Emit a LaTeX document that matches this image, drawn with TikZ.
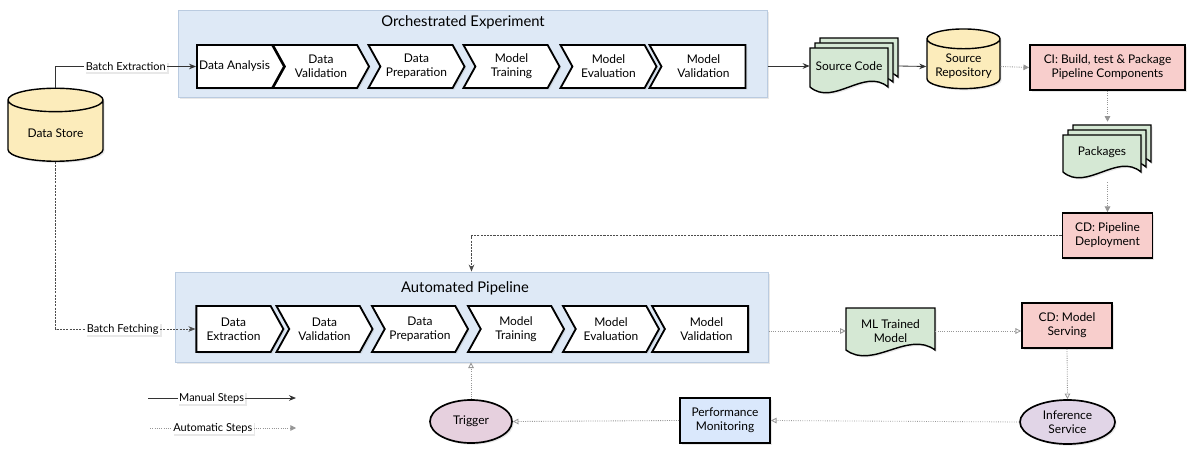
\documentclass[tikz,border=0pt]{standalone}
\usepackage{fontspec}
\setmainfont{Lato}
\usetikzlibrary{shapes.geometric,shapes.symbols,arrows.meta,shadows}

\definecolor{panelfill}{RGB}{222,233,246}
\definecolor{paneldraw}{RGB}{186,203,224}
\definecolor{storefill}{RGB}{252,236,187}
\definecolor{docfill}{RGB}{213,232,212}
\definecolor{cifill}{RGB}{248,206,204}
\definecolor{servfill}{RGB}{225,213,231}
\definecolor{trigfill}{RGB}{230,208,222}
\definecolor{monfill}{RGB}{218,232,252}
\definecolor{autoline}{RGB}{150,150,150}

\tikzset{
  softshadow/.style={drop shadow={opacity=0.18,shadow xshift=1.2pt,shadow yshift=-1.2pt}},
  panel/.style={draw=paneldraw, fill=panelfill, line width=0.6pt, softshadow},
  paneltitle/.style={font=\fontsize{10.5}{12}\selectfont},
  stage/.style={signal, draw, fill=white, line width=1.3pt, signal pointer angle=122,
    align=center, inner sep=1pt, softshadow},
  box/.style={draw, line width=1.3pt, minimum width=2.25cm, minimum height=1.125cm,
    align=center, softshadow},
  store/.style={cylinder, shape border rotate=90, draw, line width=1pt, fill=storefill,
    align=center, softshadow},
  oval/.style={ellipse, draw, line width=1.2pt, align=center, inner sep=1pt, softshadow},
  doctext/.style={align=center, inner sep=1pt},
  docline/.style={draw, line width=1pt, softshadow},
  edgelabel/.style={fill=white, inner sep=1pt, font=\fontsize{7.8}{9}\selectfont, softshadow},
  manual/.style={draw=black!80, line width=0.6pt, -{Stealth[length=5pt,width=4pt]}},
  fetch/.style={draw=black!70, line width=0.6pt, dash pattern=on 1.5pt off 0.8pt,
    -{Stealth[length=5pt,width=4pt]}},
  automatic/.style={draw=autoline, line width=0.6pt, densely dotted,
    -{Triangle[open,length=4pt,width=4pt]}},
}

% page with a wavy bottom: x0, top, x1, bottom line, fill
\newcommand{\wavepage}[5]{%
  \path[docline, fill=#5] (#1,#4) -- (#1,#2) -- (#3,#2) -- (#3,#4)
    .. controls ({#1+0.7*(#3-#1)},{#4-20}) and ({#1+0.3*(#3-#1)},{#4+20}) .. (#1,#4) -- cycle;}

\begin{document}
\begin{tikzpicture}[x=0.025cm, y=-0.025cm, font=\fontsize{8.5}{10}\selectfont]
  \useasboundingbox (0,0) rectangle (1200,459);

  % containers
  \node[panel, minimum width=14.725cm, minimum height=2.175cm] (orch) at (472.5,53.5) {};
  \node[paneltitle] (orchtitle) at (463,22) {Orchestrated Experiment};
  \node[panel, minimum width=14.825cm, minimum height=2.25cm] (autopipe) at (471.5,317) {};
  \node[paneltitle] (autotitle) at (465,288) {Automated Pipeline};

  % experiment steps
  \node[stage, signal to=east, minimum width=2.175cm, minimum height=1.075cm] (anlys) at (234.5,66.5) {Data Analysis};
  \node[stage, signal from=west, signal to=east, minimum width=2.4cm, minimum height=1.075cm] (dval1) at (321,66.5) {Data\\Validation};
  \node[stage, signal from=west, signal to=east, minimum width=2.4cm, minimum height=1.075cm] (dprep1) at (416.5,66.5) {Data\\Preparation};
  \node[stage, signal from=west, signal to=east, minimum width=2.4cm, minimum height=1.075cm] (mtrain1) at (511.5,66.5) {Model\\Training};
  \node[stage, signal from=west, signal to=east, minimum width=2.4cm, minimum height=1.075cm] (meval1) at (608.5,66.5) {Model\\Evaluation};
  \node[stage, signal from=west, signal to=nowhere, minimum width=2.4cm, minimum height=1.075cm] (mval1) at (703.5,66.5) {Model\\Validation};

  % pipeline steps
  \node[stage, signal to=east, minimum width=2.175cm, minimum height=1.15cm] (extr) at (233.5,329) {Data\\Extraction};
  \node[stage, signal from=west, signal to=east, minimum width=2.4cm, minimum height=1.15cm] (dval2) at (324.5,329) {Data\\Validation};
  \node[stage, signal from=west, signal to=east, minimum width=2.4cm, minimum height=1.15cm] (dprep2) at (420,329) {Data\\Preparation};
  \node[stage, signal from=west, signal to=east, minimum width=2.4cm, minimum height=1.15cm] (mtrain2) at (516,329) {Model\\Training};
  \node[stage, signal from=west, signal to=east, minimum width=2.4cm, minimum height=1.15cm] (meval2) at (611,329) {Model\\Evaluation};
  \node[stage, signal from=west, signal to=nowhere, minimum width=2.4cm, minimum height=1.15cm] (mval2) at (706.5,329) {Model\\Validation};

  % stores
  \node[store, minimum width=2.375cm, minimum height=1.825cm, shape aspect=0.36] (datastore) at (55.5,133.5) {Data Store};
  \node[store, minimum width=1.825cm, minimum height=1.075cm, shape aspect=0.3] (srcrepo) at (963.5,66.5) {Source\\Repository};

  % documents
  \wavepage{820}{38}{898}{77}{docfill}
  \wavepage{815}{43}{893}{82}{docfill}
  \wavepage{810}{48}{888}{87}{docfill}
  \node[doctext, minimum width=1.95cm, minimum height=0.9cm] (srccode) at (849,66) {Source Code};
  \wavepage{1073}{125}{1151}{162}{docfill}
  \wavepage{1068}{130}{1146}{167}{docfill}
  \wavepage{1063}{135}{1141}{172}{docfill}
  \node[doctext, minimum width=1.95cm, minimum height=1.5cm] (pkgs) at (1102,152) {Packages};
  \wavepage{846}{308}{935}{350}{docfill}
  \node[doctext, minimum width=2.225cm] (mlmodel) at (890.5,331) {ML Trained\\Model};

  % boxes and ovals
  \node[box, fill=cifill, minimum width=3.875cm] (ci) at (1107.5,67.5) {CI: Build, test \& Package\\Pipeline Components};
  \node[box, fill=cifill] (cdpipe) at (1107.5,235.5) {CD: Pipeline\\Deployment};
  \node[box, fill=cifill] (cdserve) at (1067,325.5) {CD: Model\\Serving};
  \node[box, fill=monfill] (perfmon) at (725,420.5) {Performance\\Monitoring};
  \node[oval, fill=servfill, minimum width=2.375cm, minimum height=1.1cm] (infer) at (1067.5,422) {Inference\\Service};
  \node[oval, fill=trigfill, minimum width=2.05cm, minimum height=1.075cm] (trigger) at (471,421.5) {Trigger};

  % connectors
  \draw[manual] (datastore.north) |- node[edgelabel, pos=0.75] {Batch Extraction} (anlys.west);
  \draw[fetch] (datastore.south) |- node[edgelabel, pos=0.74] {Batch Fetching} (extr.west);
  \draw[manual] (orch.east |- srccode.west) -- (srccode.west);
  \draw[manual] ([xshift=0.25cm]srccode.east) -- (srcrepo.west);
  \draw[automatic, -{Triangle[length=4pt,width=4pt]}] (srcrepo.east) -- (ci.west);
  \draw[automatic, -{Triangle[length=4pt,width=4pt]}] (ci.south) -- (ci.south |- pkgs.north);
  \draw[automatic, -{Triangle[length=4pt,width=4pt]}] (cdpipe.north |- pkgs.south) -- (cdpipe.north);
  \draw[fetch] (cdpipe.west) -| (autopipe.north);
  \draw[automatic] (autopipe.east |- mlmodel.west) -- (mlmodel.west);
  \draw[automatic] (mlmodel.east) -- (mlmodel.east -| cdserve.west);
  \draw[automatic] (cdserve.south) -- (infer.north);
  \draw[automatic] (infer.west) -- (perfmon.east);
  \draw[automatic] (perfmon.west) -- (trigger.east);
  \draw[automatic] (trigger.north) -- (trigger.north |- autopipe.south);

  % legend
  \coordinate (man0) at (148,398);
  \coordinate (man1) at (296,398);
  \coordinate (aut0) at (150,428);
  \coordinate (aut1) at (296,428);
  \draw[manual] (man0) -- node[edgelabel, pos=0.43] {Manual Steps} (man1);
  \draw[automatic, -{Triangle[length=4pt,width=4pt]}] (aut0) -- node[edgelabel, pos=0.43] {Automatic Steps} (aut1);
\end{tikzpicture}
\end{document}
